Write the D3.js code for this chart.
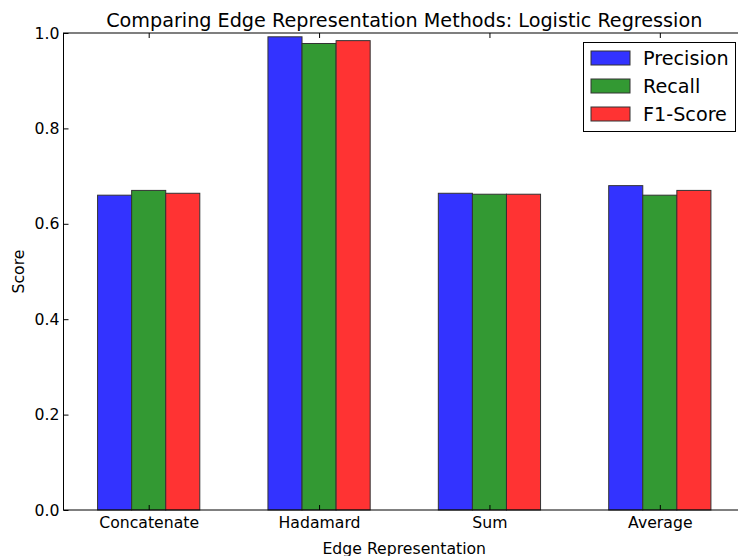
<!DOCTYPE html>
<html>
<head>
<meta charset="utf-8">
<script src="https://cdn.jsdelivr.net/npm/d3@7"></script>
<style>
  html, body { margin: 0; padding: 0; background: #fff; }
  svg { display: block; }
  text { font-family: "DejaVu Sans", sans-serif; fill: #000; }
</style>
</head>
<body>
<svg id="chart" width="738" height="556"></svg>
<script>
const categories = ["Concatenate", "Hadamard", "Sum", "Average"];
const seriesNames = ["Precision", "Recall", "F1-Score"];
const precision = [0.660, 0.992, 0.664, 0.680];
const recall    = [0.670, 0.978, 0.662, 0.660];
const f1score   = [0.664, 0.984, 0.662, 0.670];
const yTicks = [0.0, 0.2, 0.4, 0.6, 0.8, 1.0];
const colors = ["#3333ff", "#339933", "#ff3333"];
const title = "Comparing Edge Representation Methods: Logistic Regression";
const xLabel = "Edge Representation";
const yLabel = "Score";

const series = [precision, recall, f1score];
const barW = 0.2;

const svg = d3.select("#chart");
const L = 63.5, R = 745, T = 33, B = 510;

const x = d3.scaleLinear().domain([-0.2, 3.8]).range([L, R]);
const y = d3.scaleLinear().domain([0, 1]).range([B, T]);

// bars
series.forEach((vals, k) => {
  svg.append("g").selectAll("rect").data(vals).join("rect")
    .attr("x", (d, i) => x(i + k * barW))
    .attr("width", x(barW) - x(0))
    .attr("y", d => y(d))
    .attr("height", d => y(0) - y(d))
    .attr("fill", colors[k])
    .attr("stroke", "#333")
    .attr("stroke-width", 1);
});

const fontTick = "15.7px";
const fontBig = "19.2px";
const catPos = categories.map((c, i) => i + 0.3);

// left axis
const gl = svg.append("g").attr("transform", `translate(${L},0)`)
  .call(d3.axisLeft(y).tickValues(yTicks).tickFormat(d3.format(".1f")).tickSize(-5).tickPadding(4));
// right axis ticks
const gr = svg.append("g").attr("transform", `translate(${R},0)`)
  .call(d3.axisRight(y).tickValues(yTicks).tickSize(-5).tickFormat(""));
// bottom axis
const gb = svg.append("g").attr("transform", `translate(0,${B})`)
  .call(d3.axisBottom(x).tickValues(catPos).tickFormat((d, i) => categories[i]).tickSize(-5).tickPadding(7));
// top axis ticks
const gt = svg.append("g").attr("transform", `translate(0,${T})`)
  .call(d3.axisTop(x).tickValues(catPos).tickSize(-5).tickFormat(""));

[gl, gr, gb, gt].forEach(g => {
  g.select(".domain").remove();
  g.selectAll("line").attr("stroke", "#000").attr("stroke-width", 1);
  g.selectAll("text").style("font-size", fontTick).attr("fill", "#000")
    .style("font-family", '"DejaVu Sans", sans-serif');
});

// spines
svg.append("rect").attr("x", L).attr("y", T).attr("width", R - L).attr("height", B - T)
  .attr("fill", "none").attr("stroke", "#000").attr("stroke-width", 1);

// title
svg.append("text").attr("x", (L + R) / 2).attr("y", 27)
  .attr("text-anchor", "middle").style("font-size", fontBig).text(title);

// x label
svg.append("text").attr("x", (L + R) / 2).attr("y", 553.5)
  .attr("text-anchor", "middle").style("font-size", "15.7px").text(xLabel);

// y label
svg.append("text").attr("transform", `translate(24,${(T + B) / 2}) rotate(-90)`)
  .attr("text-anchor", "middle").style("font-size", "15.7px").text(yLabel);

// legend
const lg = svg.append("g");
lg.append("rect").attr("x", 583.5).attr("y", 42.5).attr("width", 152).attr("height", 89)
  .attr("fill", "#fff").attr("stroke", "#000").attr("stroke-width", 1);
seriesNames.forEach((name, k) => {
  const cy = 58 + k * 28;
  lg.append("rect").attr("x", 591).attr("y", cy - 7).attr("width", 39).attr("height", 14)
    .attr("fill", colors[k]).attr("stroke", "#333").attr("stroke-width", 1);
  lg.append("text").attr("x", 643).attr("y", cy).attr("dy", "0.36em")
    .style("font-size", fontBig).text(name);
});
</script>
</body>
</html>
